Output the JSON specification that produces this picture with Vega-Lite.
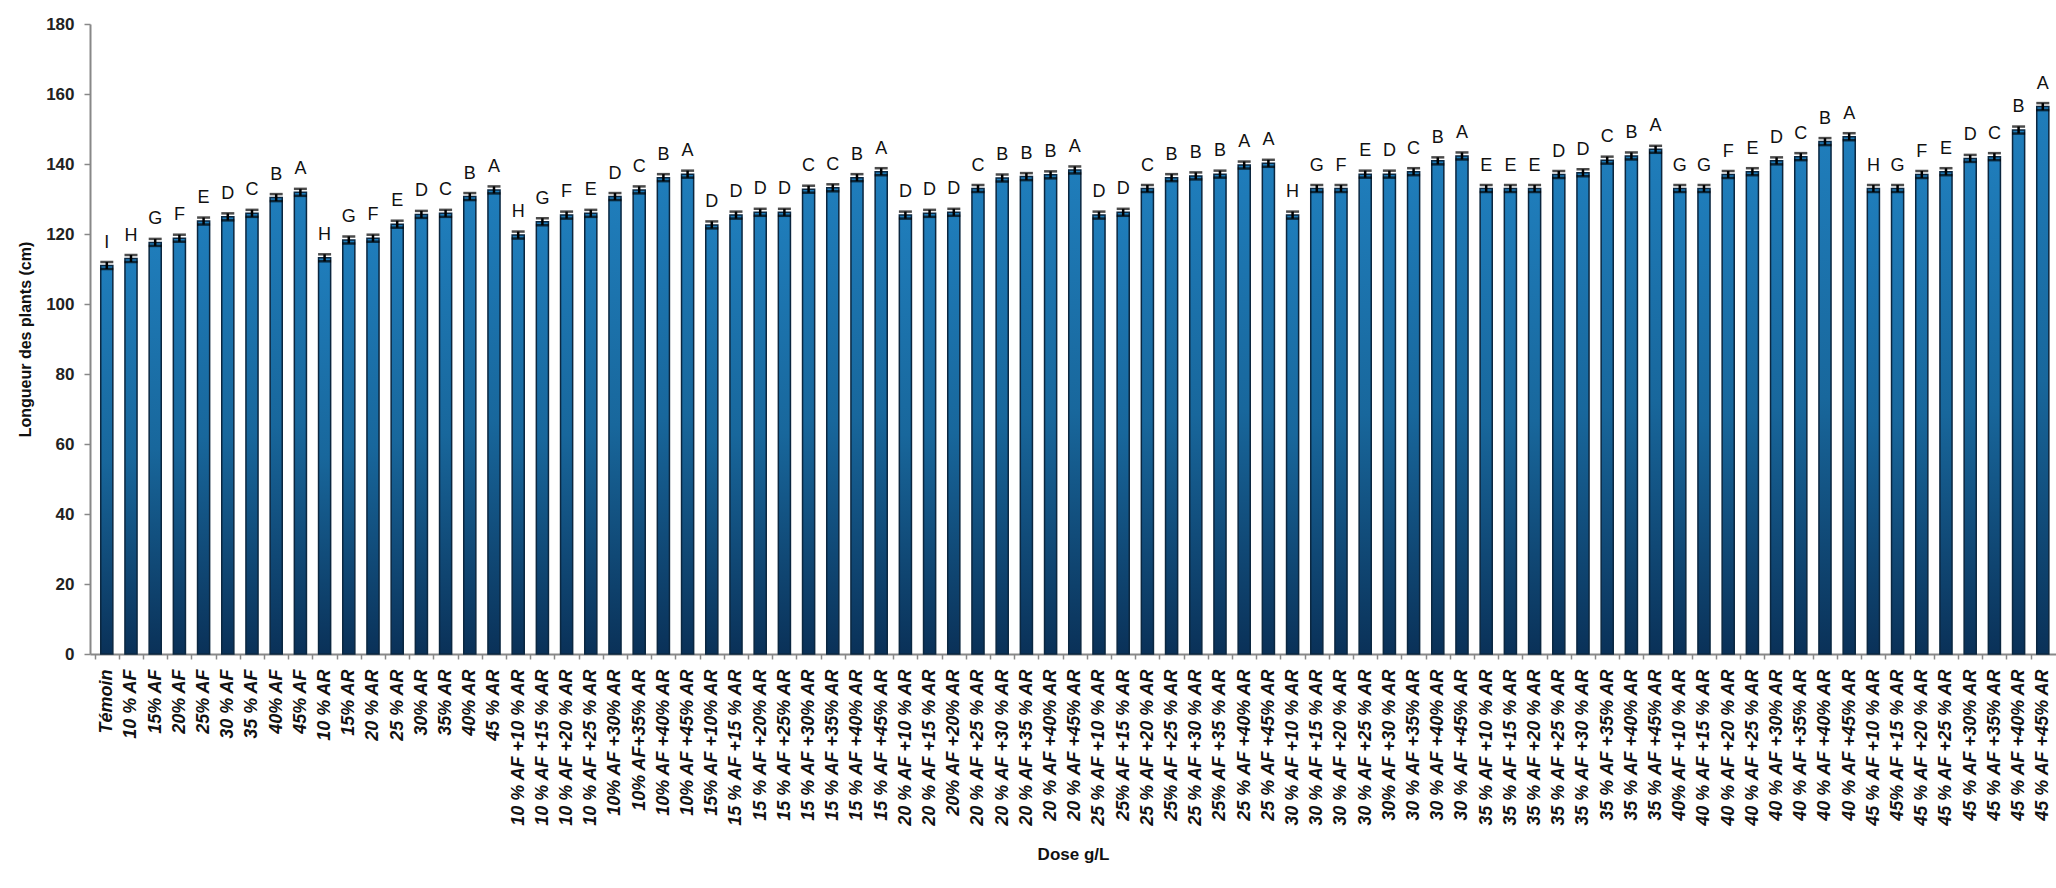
{
  "$schema": "https://vega.github.io/schema/vega-lite/v6.json",
  "autosize": {"type": "none"},
  "padding": {"left": 90, "top": 24, "right": 0, "bottom": 234},
  "width": 1966,
  "height": 630,
  "config": {"view": {"stroke": null}, "font": "Liberation Sans", "background": "white"},
  "data": {"values": [
    {"dose": "Témoin", "v": 111, "se": 1, "g": "I"},
    {"dose": "10 % AF", "v": 113, "se": 1, "g": "H"},
    {"dose": "15% AF", "v": 117.6, "se": 1, "g": "G"},
    {"dose": "20% AF", "v": 118.8, "se": 1, "g": "F"},
    {"dose": "25% AF", "v": 123.7, "se": 1, "g": "E"},
    {"dose": "30 % AF", "v": 124.9, "se": 1, "g": "D"},
    {"dose": "35 % AF", "v": 125.9, "se": 1, "g": "C"},
    {"dose": "40% AF", "v": 130.4, "se": 1, "g": "B"},
    {"dose": "45% AF", "v": 131.9, "se": 1, "g": "A"},
    {"dose": "10 % AR", "v": 113.2, "se": 1, "g": "H"},
    {"dose": "15% AR", "v": 118.3, "se": 1, "g": "G"},
    {"dose": "20 % AR", "v": 118.8, "se": 1, "g": "F"},
    {"dose": "25 % AR", "v": 122.8, "se": 1, "g": "E"},
    {"dose": "30% AR", "v": 125.6, "se": 1, "g": "D"},
    {"dose": "35% AR", "v": 125.9, "se": 1, "g": "C"},
    {"dose": "40% AR", "v": 130.7, "se": 1, "g": "B"},
    {"dose": "45 % AR", "v": 132.6, "se": 1, "g": "A"},
    {"dose": "10 % AF +10 % AR", "v": 119.7, "se": 1, "g": "H"},
    {"dose": "10 % AF +15 % AR", "v": 123.5, "se": 1, "g": "G"},
    {"dose": "10 % AF +20 % AR", "v": 125.4, "se": 1, "g": "F"},
    {"dose": "10 % AF +25 % AR", "v": 125.9, "se": 1, "g": "E"},
    {"dose": "10% AF +30% AR", "v": 130.7, "se": 1, "g": "D"},
    {"dose": "10% AF+35% AR", "v": 132.6, "se": 1, "g": "C"},
    {"dose": "10% AF +40% AR", "v": 136.1, "se": 1, "g": "B"},
    {"dose": "10% AF +45% AR", "v": 137.1, "se": 1, "g": "A"},
    {"dose": "15% AF +10% AR", "v": 122.6, "se": 1, "g": "D"},
    {"dose": "15 % AF +15 % AR", "v": 125.4, "se": 1, "g": "D"},
    {"dose": "15 % AF +20% AR", "v": 126.2, "se": 1, "g": "D"},
    {"dose": "15 % AF +25% AR", "v": 126.2, "se": 1, "g": "D"},
    {"dose": "15 % AF +30% AR", "v": 132.8, "se": 1, "g": "C"},
    {"dose": "15 % AF +35% AR", "v": 133.2, "se": 1, "g": "C"},
    {"dose": "15 % AF +40% AR", "v": 136.1, "se": 1, "g": "B"},
    {"dose": "15 % AF +45% AR", "v": 137.8, "se": 1, "g": "A"},
    {"dose": "20 % AF +10 % AR", "v": 125.4, "se": 1, "g": "D"},
    {"dose": "20 % AF +15 % AR", "v": 125.9, "se": 1, "g": "D"},
    {"dose": "20% AF +20% AR", "v": 126.2, "se": 1, "g": "D"},
    {"dose": "20 % AF +25 % AR", "v": 133, "se": 1, "g": "C"},
    {"dose": "20 % AF +30 % AR", "v": 136, "se": 1, "g": "B"},
    {"dose": "20 % AF +35 % AR", "v": 136.4, "se": 1, "g": "B"},
    {"dose": "20 % AF +40% AR", "v": 136.9, "se": 1, "g": "B"},
    {"dose": "20 % AF +45% AR", "v": 138.3, "se": 1, "g": "A"},
    {"dose": "25 % AF +10 % AR", "v": 125.4, "se": 1, "g": "D"},
    {"dose": "25% AF +15 % AR", "v": 126.2, "se": 1, "g": "D"},
    {"dose": "25 % AF +20 % AR", "v": 133, "se": 1, "g": "C"},
    {"dose": "25% AF +25 % AR", "v": 136.1, "se": 1, "g": "B"},
    {"dose": "25 % AF +30 % AR", "v": 136.6, "se": 1, "g": "B"},
    {"dose": "25% AF +35 % AR", "v": 137.1, "se": 1, "g": "B"},
    {"dose": "25 % AF +40% AR", "v": 139.7, "se": 1, "g": "A"},
    {"dose": "25 % AF +45% AR", "v": 140.2, "se": 1, "g": "A"},
    {"dose": "30 % AF +10 % AR", "v": 125.4, "se": 1, "g": "H"},
    {"dose": "30 % AF +15 % AR", "v": 133, "se": 1, "g": "G"},
    {"dose": "30 % AF +20 % AR", "v": 133, "se": 1, "g": "F"},
    {"dose": "30 % AF +25 % AR", "v": 137.1, "se": 1, "g": "E"},
    {"dose": "30% AF +30 % AR", "v": 137.1, "se": 1, "g": "D"},
    {"dose": "30 % AF +35% AR", "v": 137.8, "se": 1, "g": "C"},
    {"dose": "30 % AF +40% AR", "v": 140.9, "se": 1, "g": "B"},
    {"dose": "30 % AF +45% AR", "v": 142.3, "se": 1, "g": "A"},
    {"dose": "35 % AF +10 % AR", "v": 133, "se": 1, "g": "E"},
    {"dose": "35 % AF +15 % AR", "v": 133, "se": 1, "g": "E"},
    {"dose": "35 % AF +20 % AR", "v": 133, "se": 1, "g": "E"},
    {"dose": "35 % AF +25 % AR", "v": 137, "se": 1, "g": "D"},
    {"dose": "35 % AF +30 % AR", "v": 137.5, "se": 1, "g": "D"},
    {"dose": "35 % AF +35% AR", "v": 141.1, "se": 1, "g": "C"},
    {"dose": "35 % AF +40% AR", "v": 142.3, "se": 1, "g": "B"},
    {"dose": "35 % AF +45% AR", "v": 144.2, "se": 1, "g": "A"},
    {"dose": "40% AF +10 % AR", "v": 133, "se": 1, "g": "G"},
    {"dose": "40 % AF +15 % AR", "v": 133, "se": 1, "g": "G"},
    {"dose": "40 % AF +20 % AR", "v": 137, "se": 1, "g": "F"},
    {"dose": "40 % AF +25 % AR", "v": 137.8, "se": 1, "g": "E"},
    {"dose": "40 % AF +30% AR", "v": 140.9, "se": 1, "g": "D"},
    {"dose": "40 % AF +35% AR", "v": 142.1, "se": 1, "g": "C"},
    {"dose": "40 % AF +40% AR", "v": 146.4, "se": 1, "g": "B"},
    {"dose": "40 % AF +45% AR", "v": 147.8, "se": 1, "g": "A"},
    {"dose": "45 % AF +10 % AR", "v": 133, "se": 1, "g": "H"},
    {"dose": "45% AF +15 % AR", "v": 133, "se": 1, "g": "G"},
    {"dose": "45 % AF +20 % AR", "v": 137, "se": 1, "g": "F"},
    {"dose": "45 % AF +25 % AR", "v": 137.8, "se": 1, "g": "E"},
    {"dose": "45 % AF +30% AR", "v": 141.6, "se": 1, "g": "D"},
    {"dose": "45 % AF +35% AR", "v": 142.1, "se": 1, "g": "C"},
    {"dose": "45 % AF +40% AR", "v": 149.7, "se": 1, "g": "B"},
    {"dose": "45 % AF +45% AR", "v": 156.4, "se": 1, "g": "A"}
  ]},
  "encoding": {
    "x": {
      "field": "dose", "type": "nominal", "sort": null,
      "scale": {"paddingInner": 0.5, "paddingOuter": 0.37, "align": 0.6},
      "axis": {
        "title": "Dose g/L", "titleFont": "Liberation Sans", "titleFontSize": 17, "titleFontWeight": "bold", "titleColor": "#111",
        "titleY": 200, "titleBaseline": "middle", "titleAnchor": "middle",
        "labelAngle": -90, "labelAlign": "right", "labelBaseline": "middle", "labelFontSize": 18, "labelFontWeight": "bold", "labelFontStyle": "italic", "labelColor": "#111",
        "labelOverlap": false, "labelBound": false, "labelPadding": 10,
        "tickOffset": -12.1, "labelOffset": 12.1, "tickSize": 5, "tickColor": "#888", "tickWidth": 1.5,
        "domainColor": "#888", "domainWidth": 2
      }
    },
    "y": {
      "field": "v", "type": "quantitative",
      "scale": {"domain": [0, 180], "nice": false},
      "axis": {
        "title": "Longueur des plants (cm)", "titleFontSize": 16, "titleFontWeight": "bold", "titleColor": "#111", "titlePadding": 12,
        "values": [0, 20, 40, 60, 80, 100, 120, 140, 160, 180],
        "labelFontSize": 17, "labelFontWeight": "bold", "labelColor": "#222", "labelPadding": 10,
        "grid": false, "tickSize": 6, "tickColor": "#888", "tickWidth": 1.5, "domainColor": "#888", "domainWidth": 2
      }
    }
  },
  "layer": [
    {
      "mark": {
        "type": "bar",
        "color": {"gradient": "linear", "x1": 0, "y1": 0, "x2": 0, "y2": 1,
          "stops": [{"offset": 0, "color": "#1f7dbb"}, {"offset": 0.5, "color": "#18679c"}, {"offset": 1, "color": "#0a3158"}]},
        "stroke": "#0b2740", "strokeWidth": 1.5
      }
    },
    {
      "mark": {"type": "errorbar", "ticks": {"size": 13, "thickness": 2.5, "color": "#000"}, "rule": {"strokeWidth": 2.5, "color": "#000"}},
      "encoding": {"y": {"field": "v", "type": "quantitative"}, "yError": {"field": "se"}}
    },
    {
      "mark": {"type": "text", "baseline": "alphabetic", "align": "center", "dy": -18, "fontSize": 18, "font": "Liberation Sans", "color": "#111"},
      "encoding": {"text": {"field": "g"}}
    }
  ]
}
